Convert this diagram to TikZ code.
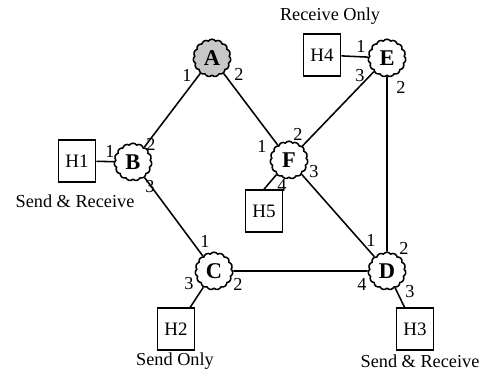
\documentclass[tikz,border=0pt]{standalone}
\usepackage{fontspec}
\setmainfont{Liberation Serif}
\usetikzlibrary{shapes.symbols}

\begin{document}
\begin{tikzpicture}[x=0.025cm,y=-0.025cm,line width=1.1pt,
		router/.style={cloud,cloud puffs=15,cloud puff arc=110,aspect=1,draw,minimum size=0.94cm,inner sep=0pt,font=\fontsize{16}{18}\selectfont\bfseries},
		host/.style={draw,minimum width=0.925cm,minimum height=1.05cm,font=\fontsize{13.5}{15}\selectfont},
		port/.style={font=\fontsize{13}{15}\selectfont,inner sep=0pt},
		caption/.style={font=\fontsize{13}{15}\selectfont}]
		\useasboundingbox (0,0) rectangle (485,372);
		% routers
		\node[router,fill=black!22] (A) at (212,58) {A};
		\node[router] (B) at (133,162) {B};
		\node[router] (C) at (214,271) {C};
		\node[router] (D) at (387,271) {D};
		\node[router] (E) at (387,58) {E};
		\node[router] (F) at (289,160) {F};
		% hosts
		\node[host] (H1) at (77,161) {H1};
		\node[host] (H2) at (176,329) {H2};
		\node[host] (H3) at (415,329) {H3};
		\node[host] (H4) at (322,55) {H4};
		\node[host] (H5) at (264,211) {H5};
		% links
		\draw (A) -- (B);
		\draw (A) -- (F);
		\draw (B) -- (C);
		\draw (C) -- (D);
		\draw (F) -- (D);
		\draw (E) -- (F);
		\draw (E) -- (D);
		\draw (H1) -- (B);
		\draw (H2) -- (C);
		\draw (H3) -- (D);
		\draw (H4) -- (E);
		\draw (H5.north) -- (F);
		% port numbers
		\node[port] (a1) at (187,75) {1};
		\node[port] (a2) at (239,74) {2};
		\node[port] (b1) at (110,151) {1};
		\node[port] (b2) at (151,144) {2};
		\node[port] (b3) at (150,187) {3};
		\node[port] (c1) at (205,241) {1};
		\node[port] (c2) at (238,284) {2};
		\node[port] (c3) at (189,284) {3};
		\node[port] (d1) at (371,240) {1};
		\node[port] (d2) at (404,248) {2};
		\node[port] (d3) at (410,292) {3};
		\node[port] (d4) at (362,284) {4};
		\node[port] (e1) at (361,46) {1};
		\node[port] (e2) at (401,87) {2};
		\node[port] (e3) at (360,76) {3};
		\node[port] (f1) at (262,146) {1};
		\node[port] (f2) at (298,134) {2};
		\node[port] (f3) at (314,172) {3};
		\node[port] (f4) at (282,185) {4};
		% captions
		\node[caption] (t4) at (330,16) {Receive Only};
		\node[caption] (t1) at (75,201) {Send \& Receive};
		\node[caption] (t2) at (175,361) {Send Only};
		\node[caption] (t3) at (420,361) {Send \& Receive};
	\end{tikzpicture}
\end{document}
